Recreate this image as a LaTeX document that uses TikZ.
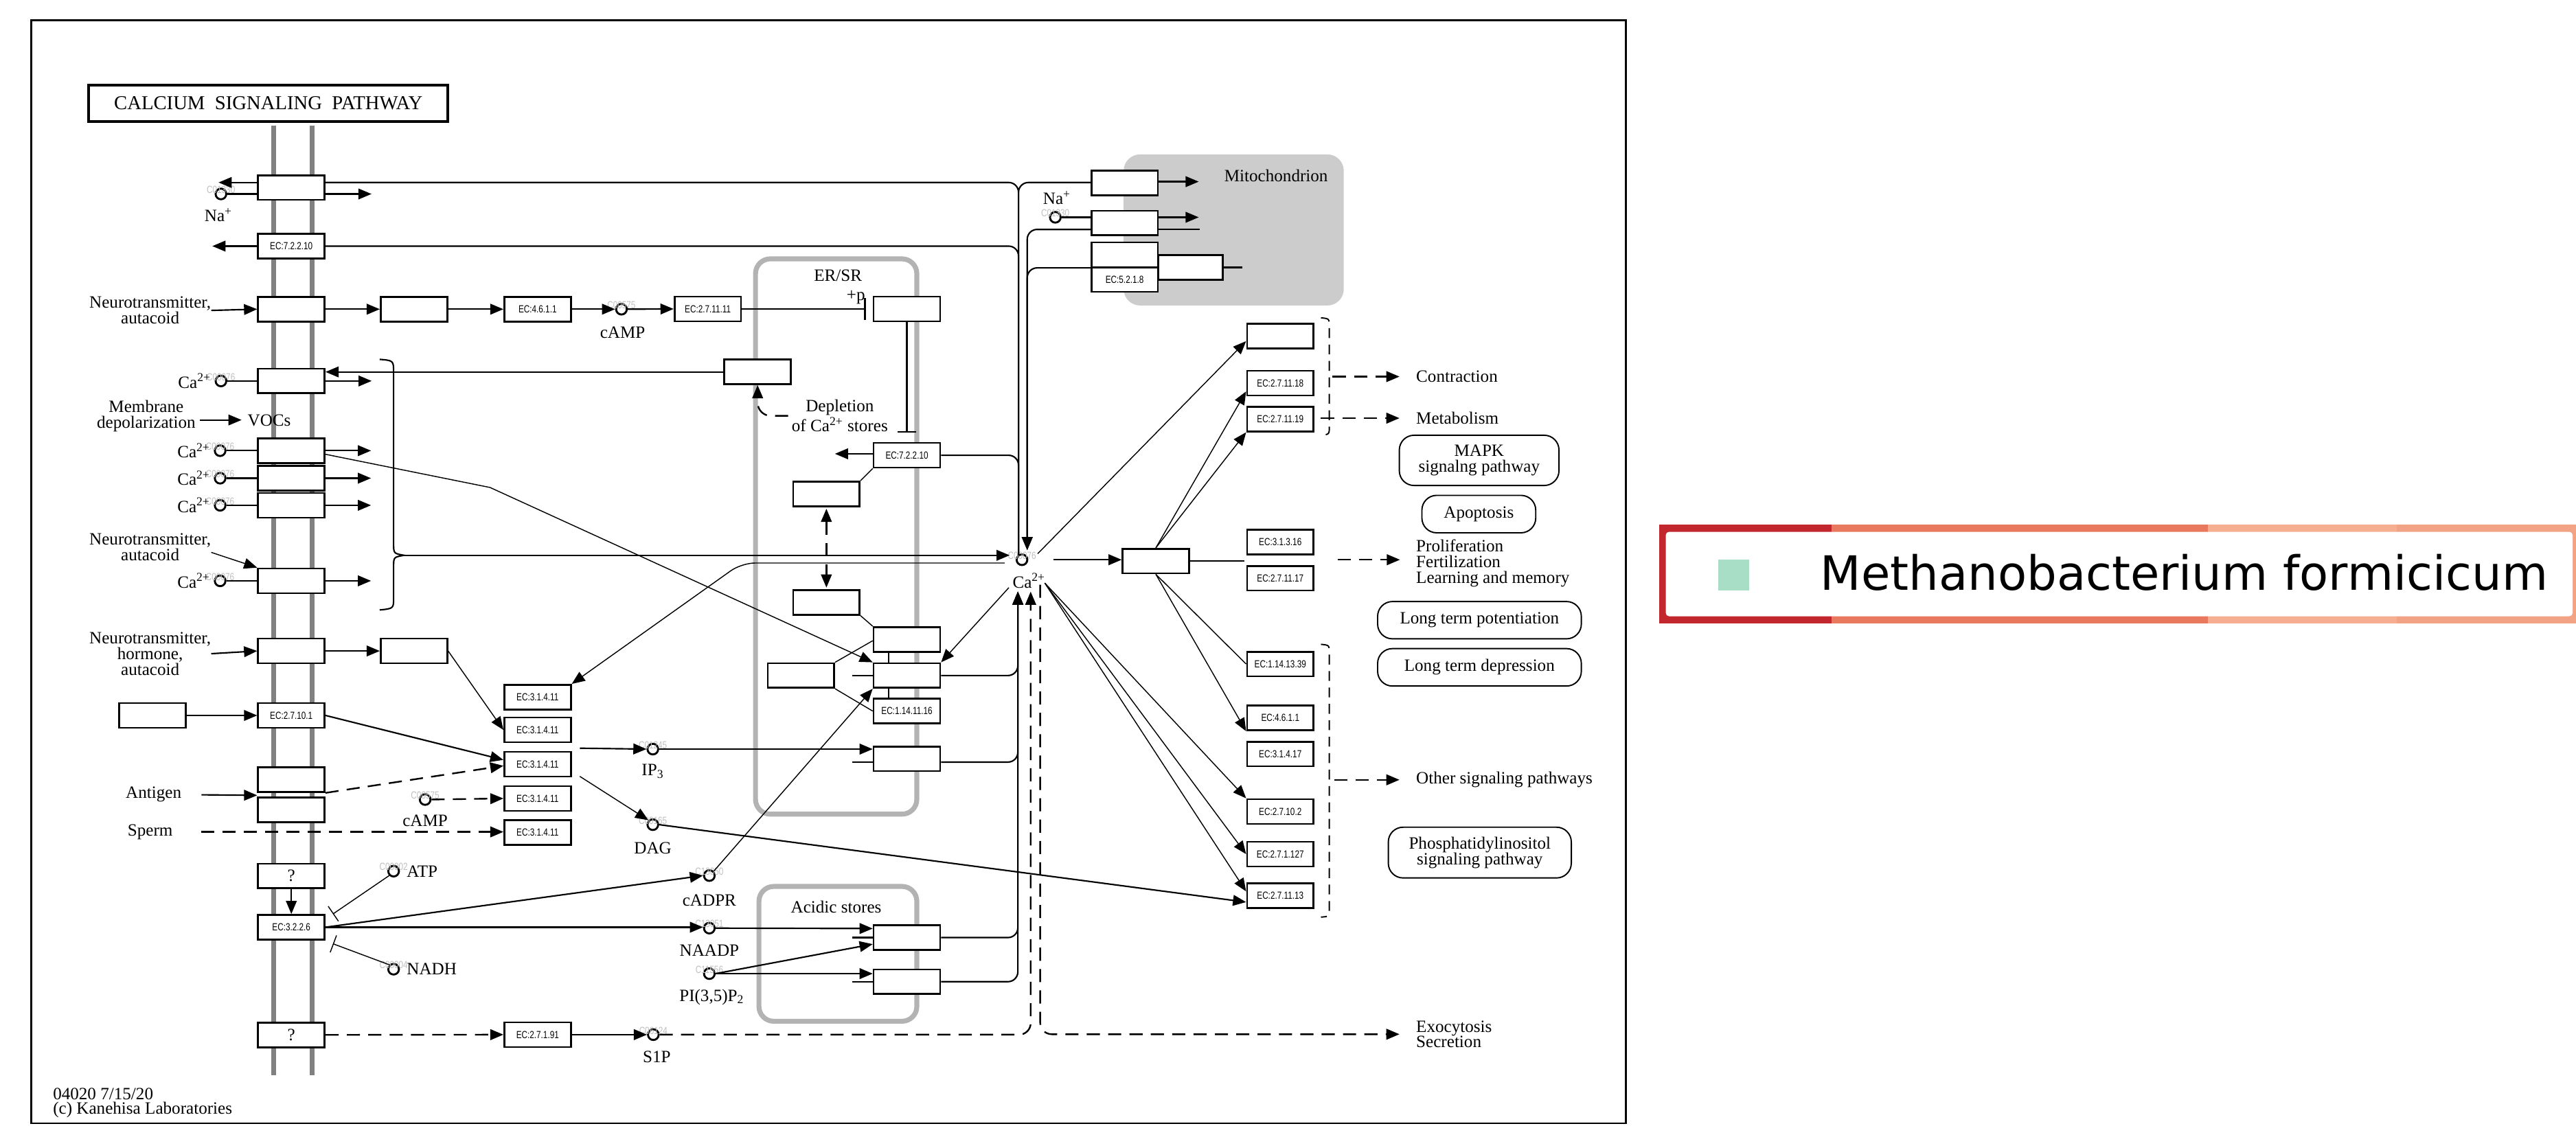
\documentclass[tikz,border=0pt]{standalone}
\usepackage{fontspec}
\setmainfont{Liberation Serif}
\newfontfamily\ecfont{Liberation Sans}[FakeStretch=0.78]
\newfontfamily\legendfont{DejaVu Sans}
\usetikzlibrary{arrows.meta,calc,positioning}
\newcommand{\caion}{Ca\textsuperscript{2+}}
\newcommand{\naion}{Na\textsuperscript{+}}
\definecolor{mitofill}{HTML}{CCCCCC}
\definecolor{erline}{HTML}{B3B3B3}
\definecolor{membline}{HTML}{808080}
\definecolor{lgA}{HTML}{C1272D}
\definecolor{lgB}{HTML}{E8795E}
\definecolor{lgC}{HTML}{F5AE90}
\definecolor{lgD}{HTML}{F2A386}
\definecolor{lgsq}{HTML}{A8DEC6}
\begin{document}
\begin{tikzpicture}[x=1pt,y=-1pt,>={Triangle[length=8pt,width=6.5pt]},
    every node/.style={font=\fontsize{10.5}{9.6}\selectfont,inner sep=0pt},
    gene/.style={draw,fill=white,line width=1.1pt,minimum width=40.5pt,minimum height=15pt,font=\ecfont\fontsize{6.3}{7}\selectfont},
    qbox/.style={gene,font=\fontsize{10.5}{9.6}\selectfont},
    cpd/.style={draw,circle,line width=1.2pt,minimum size=6.5pt,label={[cid]center:#1}},
    cid/.style={font=\ecfont\fontsize{6.3}{7}\selectfont,text=black!25,yshift=2.5pt},
    pmap/.style={draw,line width=0.8pt,rounded corners=9pt,align=center},
    link/.style={line width=0.9pt},
    thinlink/.style={line width=0.6pt},
    dlink/.style={line width=1pt,dash pattern=on 8pt off 5pt},
    brk/.style={line width=0.8pt,dash pattern=on 6pt off 4pt},
    compart/.style={draw=erline,line width=3pt,rounded corners=9pt},
    membrane/.style={draw=membline,line width=3pt}]
    \useasboundingbox (0,0) rectangle (1568.1,698.6);
    \draw[line width=1.2pt] (19,12.4) rectangle (989.6,683.9);
    \fill[mitofill,rounded corners=10pt] (684,94) rectangle (818,186);
    \draw[compart] (459.9,157.6) rectangle (558.1,495.7);
    \draw[compart] (462,539.7) rectangle (558.1,621.8);
    \draw[membrane] (166.7,76.3) -- (166.7,654.7);
    \draw[membrane] (190.1,76.3) -- (190.1,654.7);

    \node (title) [draw,line width=1.6pt,minimum width=218.7pt,minimum height=22.4pt,font=\fontsize{12}{14}\selectfont] at (163.35,62.9) {CALCIUM\ \ SIGNALING\ \ PATHWAY};
    \node (ersr) at (510.1,167.8) {ER/SR};
    \node (acid) at (509,552.4) {Acidic stores};
    \node (mito) at (776.8,106.9) {Mitochondrion};
    \node (ver) [anchor=west] at (32.1,665.9) {04020 7/15/20};
    \node (copy) [anchor=west] at (32.1,675.6) {(c) Kanehisa Laboratories};

    \node (ncx)   [gene] at (177.35,114.2) {};
    \node (na1)   [cpd=C01330] at (134.5,118.1) {};
    \node (na1l)  at (133,131) {\naion};
    \node (pmca)  [gene] at (177.35,149.85) {EC:7.2.2.10};
    \node (nt1)   [align=center] at (91.4,189) {Neurotransmitter,\\autacoid};
    \node (gpcr1) [gene] at (177.35,188.25) {};
    \node (gs)    [gene] at (252,188.25) {};
    \node (ac)    [gene] at (327.25,188.25) {EC:4.6.1.1};
    \node (camp1) [cpd=C00575] at (378.3,188.25) {};
    \node (camp1l) at (379,202.4) {cAMP};
    \node (pka)   [gene] at (430.85,188.1) {EC:2.7.11.11};
    \node (pln)   [gene] at (552.05,188.1) {};
    \node (plabel) at (521,181) {+p};
    \node (soc)   [gene] at (177.35,231.95) {};
    \node (ca1)   [cpd=C00076] at (134.5,231.95) {};
    \node (ca1l)  [left=2pt] at (ca1.west) {\caion};
    \node (stim)  [gene] at (461.2,226.45) {};
    \node (depl)  [align=center] at (511.2,253.2) {Depletion\\of \caion{} stores};
    \node (depol) [align=center] at (89,253.5) {Membrane\\depolarization};
    \node (vocs)  at (163.9,256) {VOCs};
    \node (voc1)  [gene] at (177.35,274.4) {};
    \node (voc2)  [gene] at (177.35,291.15) {};
    \node (voc3)  [gene] at (177.35,307.65) {};
    \node (ca2)   [cpd=C00076] at (134,274.4) {};
    \node (ca2l)  [left=2pt] at (ca2.west) {\caion};
    \node (ca3)   [cpd=C00076] at (134,291.15) {};
    \node (ca3l)  [left=2pt] at (ca3.west) {\caion};
    \node (ca4)   [cpd=C00076] at (134,307.65) {};
    \node (ca4l)  [left=2pt] at (ca4.west) {\caion};
    \node (nt2)   [align=center] at (91.4,333) {Neurotransmitter,\\autacoid};
    \node (roc)   [gene] at (177.35,353.65) {};
    \node (ca5)   [cpd=C00076] at (134,353.65) {};
    \node (ca5l)  [left=2pt] at (ca5.west) {\caion};
    \node (nt3)   [align=center] at (91.4,398) {Neurotransmitter,\\hormone,\\autacoid};
    \node (gpcr2) [gene] at (177.35,396.35) {};
    \node (gq)    [gene] at (252,396.35) {};
    \node (lig)   [gene] at (92.85,435.6) {};
    \node (ptk)   [gene] at (177.35,435.6) {EC:2.7.10.1};
    \node (antigen) at (93.5,483.8) {Antigen};
    \node (bcr1)  [gene] at (177.35,474.7) {};
    \node (bcr2)  [gene] at (177.35,493.1) {};
    \node (sperm) at (91.4,506.5) {Sperm};
    \node (q1)    [qbox] at (177.35,533.35) {?};
    \node (cd38)  [gene] at (177.35,564.55) {EC:3.2.2.6};
    \node (atp)   [cpd=C00002] at (239.6,530.4) {};
    \node (atpl)  [right=4pt] at (atp.east) {ATP};
    \node (nadh)  [cpd=C00004] at (239.6,590.1) {};
    \node (nadhl) [right=4pt] at (nadh.east) {NADH};
    \node (q2)    [qbox] at (177.35,630.1) {?};

    \node (plc1)  [gene] at (327.25,424.45) {EC:3.1.4.11};
    \node (plc2)  [gene] at (327.25,444.4) {EC:3.1.4.11};
    \node (plc3)  [gene] at (327.25,465.25) {EC:3.1.4.11};
    \node (plc4)  [gene] at (327.25,486.15) {EC:3.1.4.11};
    \node (plc5)  [gene] at (327.25,506.95) {EC:3.1.4.11};
    \node (camp2) [cpd=C00575] at (258.8,486.8) {};
    \node (camp2l) at (258.8,499.5) {cAMP};
    \node (ip3)   [cpd=C01245] at (397.4,456.1) {};
    \node (ip3l)  at (397.4,469.6) {IP\textsubscript{3}};
    \node (dag)   [cpd=C00165] at (397.4,502.1) {};
    \node (dagl)  at (397.4,516.3) {DAG};
    \node (cadpr) [cpd=C13050] at (431.8,533.1) {};
    \node (cadprl) at (431.8,548) {cADPR};
    \node (naadp) [cpd=C13051] at (431.8,565.1) {};
    \node (naadpl) at (431.8,578.6) {NAADP};
    \node (pip)   [cpd=C11556] at (431.8,592.8) {};
    \node (pipl)  at (433.3,607) {PI(3,5)P\textsubscript{2}};
    \node (s1pk)  [gene] at (327.25,629.95) {EC:2.7.1.91};
    \node (s1p)   [cpd=C06124] at (397.7,629.95) {};
    \node (s1pl)  at (399.8,643.5) {S1P};

    \node (erbox1) [gene] at (503.05,300.7) {};
    \node (serca)  [gene] at (552.05,277.2) {EC:7.2.2.10};
    \node (erbox2) [gene] at (503.05,366.8) {};
    \node (ryrU)   [gene] at (552.05,389.35) {};
    \node (ryr)    [gene] at (552.05,411.3) {};
    \node (fk)     [gene] at (487.55,411.3) {};
    \node (hif)    [gene] at (552.05,432.95) {EC:1.14.11.16};
    \node (ip3r)   [gene] at (552.05,462) {};
    \node (a1)     [gene] at (552.05,570.85) {};
    \node (a2)     [gene] at (552.05,597.7) {};

    \node (ca)  [cpd=C00076] at (622.1,340.8) {};
    \node (cal) at (626.4,353.5) {\caion};
    \node (m1)  [gene] at (684.6,111.5) {};
    \node (m2)  [gene] at (684.6,135.8) {};
    \node (na2) [cpd=C01330] at (642.4,132.3) {};
    \node (na2l) at (643.4,120.5) {\naion};
    \node (m3a) [gene] at (684.6,155.05) {};
    \node (m3b) [gene] at (684.6,170.2) {EC:5.2.1.8};
    \node (m3c) [gene,minimum width=39.5pt] at (724.65,162.85) {};

    \node (cam) [gene] at (703.6,341.6) {};
    \node (r1)  [gene] at (779.35,204.7) {};
    \node (r2)  [gene] at (779.35,233.3) {EC:2.7.11.18};
    \node (r3)  [gene] at (779.35,255.15) {EC:2.7.11.19};
    \node (r4)  [gene] at (779.35,330.1) {EC:3.1.3.16};
    \node (r5)  [gene] at (779.35,352.05) {EC:2.7.11.17};
    \node (r6)  [gene] at (779.35,404.3) {EC:1.14.13.39};
    \node (r7)  [gene] at (779.35,437.15) {EC:4.6.1.1};
    \node (r8)  [gene] at (779.35,459.1) {EC:3.1.4.17};
    \node (r9)  [gene] at (779.35,494.1) {EC:2.7.10.2};
    \node (r10) [gene] at (779.35,520.05) {EC:2.7.1.127};
    \node (r11) [gene] at (779.35,545.35) {EC:2.7.11.13};

    \node (contr)  [anchor=west] at (861.9,229.3) {Contraction};
    \node (metab)  [anchor=west] at (861.9,254.6) {Metabolism};
    \node (mapk)   [pmap,minimum width=97.2pt,minimum height=30.6pt] at (900.4,280.3) {MAPK\\signalng pathway};
    \node (apop)   [pmap,minimum width=69.3pt,minimum height=22.8pt] at (900.2,313) {Apoptosis};
    \node (prolif) [anchor=west,align=left] at (861.9,343.1) {Proliferation\\Fertilization\\Learning and memory};
    \node (ltp)    [pmap,minimum width=124pt,minimum height=22.7pt] at (900.6,377.6) {Long term potentiation};
    \node (ltd)    [pmap,minimum width=124pt,minimum height=22.8pt] at (900.6,406.3) {Long term depression};
    \node (other)  [anchor=west] at (861.9,474.8) {Other signaling pathways};
    \node (pisig)  [pmap,minimum width=111.4pt,minimum height=30.9pt] at (900.8,519.1) {Phosphatidylinositol\\signaling pathway};
    \node (exo)    [anchor=west,align=left] at (861.9,629.7) {Exocytosis\\Secretion};

    \coordinate (caL)  at ($(ca)+(-2.1,-2.8)$);
    \coordinate (caR)  at ($(ca)+(3.2,-5.8)$);
    \coordinate (caBL) at ($(ca)+(-2.5,19.4)$);
    \coordinate (caBD) at ($(ca)+(5.3,19.4)$);
    \coordinate (caBX) at ($(ca)+(11.1,15.2)$);
    \coordinate (caSE) at ($(ca)+(13.9,14.2)$);
    \coordinate (bracetip) at (246,338.1);

    \draw[link] (na1) -- (na1 -| ncx.west);
    \draw[link,->] ($(ncx.west)+(0,-3.1)$) -- ++(-23.5,0);
    \draw[link,->] ($(ncx.east)+(0,3.9)$) -- ++(28,0);
    \draw[link,->] (pmca.west) -- ++(-27.3,0);
    \draw[link,->] (nt1.east) -- (gpcr1.west);
    \draw[link,->] (gpcr1.east) -- (gs.west);
    \draw[link,->] (gs.east) -- (ac.west);
    \draw[link,->] (ac.east) -- (camp1.west);
    \draw[link,->] (camp1.east) -- (pka.west);
    \draw[link,-{Bar[width=13pt]},shorten >=4.3pt] (pka.east) -- (pln.west);
    \draw[link,-{Bar[width=11pt]},shorten >=5.6pt] (pln.south) -- (serca.north);
    \draw[link,->] ($(serca.west)+(0,-0.9)$) -- ++(-23,0);
    \draw[link] (ca1) -- (soc.west);
    \draw[link,->] (soc.east) -- ++(28.1,0);
    \draw[link,->] (stim.west) -- (stim.west -| soc.east);
    \draw[dlink,->,rounded corners=8pt,shorten <=2pt] (depl.west) -| (stim.south);
    \draw[link,->] ($(depol.east)+(2.3,2.2)$) -- ($(vocs.west)+(-3.5,-0.3)$);
    \draw[link] (ca2) -- (voc1.west);
    \draw[link] (ca3) -- (voc2.west);
    \draw[link] (ca4) -- (voc3.west);
    \draw[link,->] (voc1.east) -- ++(27.7,0);
    \draw[link,->] (voc2.east) -- ++(27.7,0);
    \draw[link,->] (voc3.east) -- ++(27.7,0);
    \draw[thinlink,->] ($(voc1.east)+(0,2.2)$) -- (298.3,296.8) -- (ryr.north west);
    \draw[thinlink,->] ($(nt2.east)+(0,3.3)$) -- (roc.north west);
    \draw[link] (ca5) -- (roc.west);
    \draw[link,->] (roc.east) -- ++(27.7,0);
    \draw[link] (231.1,218.8) .. controls (239.6,219.5) .. (239.6,227) -- (239.6,331) .. controls (239.6,337) .. (bracetip) .. controls (239.6,339.2) .. (239.6,345) -- (239.6,364) .. controls (239.6,370.5) .. (231.1,371.4);
    \draw[link,->] (bracetip) -- ($(ca)+(-7.5,-2.7)$);
    \draw[thinlink,->,rounded corners=8pt] ($(ca)+(-10.6,2)$) -- (451.5,342.8) -- (plc1.north east);
    \draw[link,->] (nt3.east) -- (gpcr2.west);
    \draw[link,->] (gpcr2.east) -- (gq.west);
    \draw[thinlink,->] (gq.east) -- (plc2.west);
    \draw[link,->] (lig.east) -- (ptk.west);
    \draw[link,->] (ptk.east) -- ($(plc3.west)+(0,-2.6)$);
    \draw[link,->,shorten <=12pt] (antigen.east) -- ($(bcr1.south west)+(0,1.5)$);
    \draw[dlink,->] (bcr1.south east) -- ($(plc3.west)+(0,1)$);
    \draw[dlink,->] (camp2.east) -- (plc4.west);
    \draw[dlink,->,shorten <=17pt] (sperm.east) -- (sperm.east -| plc5.west);
    \draw[link,->] ($(plc3.north east)+(4.9,-1.65)$) -- (ip3.west);
    \draw[thinlink,->] ($(plc3.south east)+(4.9,-0.6)$) -- (dag.north west);
    \draw[link,->] (ip3.east) -- (ip3.east -| ip3r.west);
    \draw[link,->] (dag.east) -- ($(r11.west)+(0,3.9)$);
    \draw[link,->] (q1.south) -- (cd38.north);
    \draw[link,->] (cd38.east) -- (cadpr.west);
    \draw[link,->] (cd38.east) -- (cd38.east -| naadp.west);
    \draw[thinlink,-{Bar[width=11pt]}] (atp.south west) -- ($(cd38.north east)+(4.5,0)$);
    \draw[thinlink,-{Bar[width=11pt]}] (nadh.north west) -- ($(cd38.south east)+(4.5,2)$);
    \draw[thinlink,->] (cadpr.north east) -- (ryr.south west);
    \draw[link,->] (naadp.east) -- ($(a1.west)+(0,-5.5)$);
    \draw[link,->] (pip.east) -- ($(a1.west)+(0,4)$);
    \draw[link,->] (pip.east) -- (pip.east -| a2.west);
    \draw[dlink,->] (q2.east) -- (s1pk.west);
    \draw[link,->] (s1pk.east) -- (s1p.west);

    \draw[thinlink] (erbox1.north east) -- (serca.south west);
    \draw[thinlink] (erbox2.south east) -- (ryrU.north west);
    \draw[dlink,<->,shorten <=1pt,shorten >=1pt] (erbox1.south) -- (erbox2.north);
    \draw[link] ($(ryrU.south)+(-11,0)$) -- ($(ryr.north)+(-11,0)$);
    \draw[link] ($(ryr.south)+(-11,0)$) -- ($(hif.north)+(-11,0)$);
    \draw[thinlink] (fk.north east) -- ($(ryrU.west)+(0,0.75)$);
    \draw[thinlink] (fk.south east) -- (hif.west);
    \draw[thinlink,->] ($(ca)+(-8,17)$) -- (ryr.north east);
    \draw[link] ($(ryr.west)+(-12.4,0)$) -- (ryr.west);
    \draw[link] ($(ip3r.west)+(-12.4,2)$) -- ($(ip3r.west)+(0,2)$);
    \draw[link] ($(a1.west)+(-12.4,0)$) -- (a1.west);
    \draw[link] ($(a2.west)+(-12.4,0)$) -- (a2.west);

    \draw[link,rounded corners=6pt] ($(ncx.east)+(0,-3.1)$) -| (caL);
    \draw[link,rounded corners=6pt] ($(m1.west)+(0,-0.4)$) -| (caL);
    \draw[link,rounded corners=6pt] (pmca.east) -| (caL);
    \draw[link,rounded corners=6pt] (serca.east) -| (caL);
    \draw[link,->,rounded corners=6pt] ($(m2.west)+(0,3.9)$) -| (caR);
    \draw[link,->,rounded corners=6pt] (m3a.south west) -| (caR);
    \draw[link,->,rounded corners=6pt] (ryr.east) -| (caBL);
    \draw[link,->,rounded corners=6pt] ($(ip3r.east)+(0,2)$) -| (caBL);
    \draw[link,->,rounded corners=6pt] (a1.east) -| (caBL);
    \draw[link,->,rounded corners=6pt] (a2.east) -| (caBL);
    \draw[dlink,->,rounded corners=7pt] (s1p.east) -| (caBD);
    \draw[dlink,->,rounded corners=7pt,shorten >=10pt] (caBX) |- (exo.west);

    \draw[link] (na2) -- (na2 -| m2.west);
    \draw[link,->] ($(m1.east)+(0,-0.9)$) -- ++(24.3,0);
    \draw[link,->] ($(m2.east)+(0,-3.5)$) -- ++(24.3,0);
    \draw[link] ($(m2.east)+(0,3.9)$) -- ++(24.9,0);
    \draw[link] (m3c.east) -- ++(11.1,0);

    \draw[link,->] ($(ca)+(19.2,0)$) -- (ca -| cam.west);
    \draw[thinlink,->] ($(ca)+(9.6,-3.7)$) -- ($(r1.west)+(0,3)$);
    \draw[thinlink,->] (cam.north) -- ($(r2.west)+(0,5)$);
    \draw[thinlink,->] (cam.north) -- (r3.south west);
    \draw[link] (cam.east) -- ($(cam.east -| r4.west)+(-1,0)$);
    \draw[thinlink] (cam.south) -- (r6.west);
    \draw[thinlink,->] (cam.south) -- (r7.south west);
    \draw[thinlink,->] (caSE) -- (r9.north west);
    \draw[thinlink,->] (caSE) -- (r10.west);
    \draw[thinlink,->] (caSE) -- ($(r11.west)+(0,-2.6)$);

    \draw[brk] (804.1,193.5) .. controls (809.2,194) .. (809.2,199) -- (809.2,259.5) .. controls (809.2,264.5) .. (804.1,265);
    \draw[brk] (804.1,392.3) .. controls (809.2,392.8) .. (809.2,397.8) -- (809.2,553.4) .. controls (809.2,558) .. (804.1,558.4);
    \draw[dlink,->,shorten >=10pt] ($(contr.west)+(-50.7,0)$) -- (contr.west);
    \draw[dlink,->,shorten >=10pt] ($(metab.west)+(-57.8,0)$) -- (metab.west);
    \draw[dlink,->] ($(prolif.west)+(-47.6,-2.3)$) -- ($(prolif.west)+(-9.7,-2.3)$);
    \draw[dlink,->,shorten >=10pt] ($(other.west)+(-49.6,0)$) -- (other.west);

    \fill[lgA] (1010,319.5) rectangle (1115,379.5);
    \fill[lgB] (1115,319.5) rectangle (1344,379.5);
    \fill[lgC] (1344,319.5) rectangle (1459,379.5);
    \fill[lgD] (1459,319.5) rectangle (1568.1,379.5);
    \fill[white,rounded corners=2pt] (1014,323.8) rectangle (1566,375.2);
    \node (lgsq) [fill=lgsq,minimum width=18.7pt,minimum height=19.2pt] at (1055.25,350.1) {};
    \node (lgtxt) [anchor=west,font=\legendfont\fontsize{28.8}{32}\selectfont] at (1107.9,348.7) {Methanobacterium formicicum};
\end{tikzpicture}
\end{document}
